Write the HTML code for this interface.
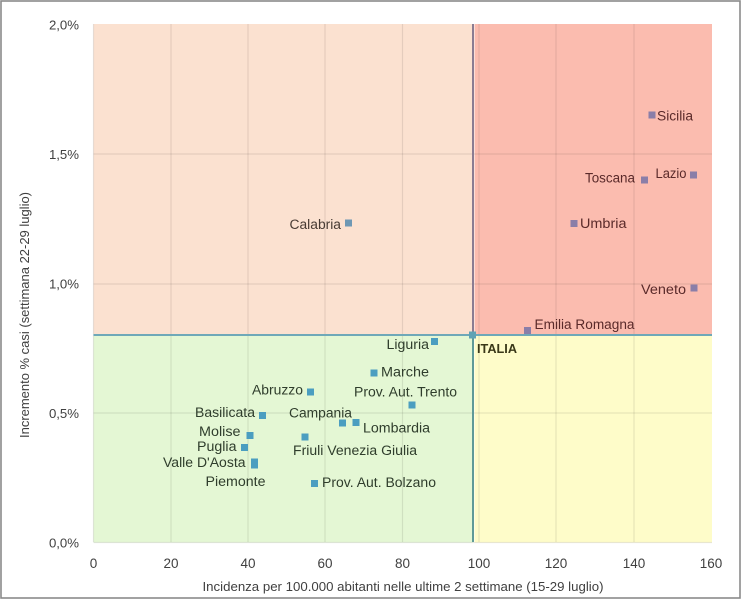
<!DOCTYPE html>
<html><head><meta charset="utf-8"><style>
html,body{margin:0;padding:0;background:#fff;}
svg{display:block;}
text{font-family:"Liberation Sans",Arial,sans-serif;}
</style></head><body>
<svg width="744" height="600" viewBox="0 0 744 600" xmlns="http://www.w3.org/2000/svg">
<rect x="0" y="0" width="744" height="600" fill="#fff"/>
<rect x="1" y="1" width="739" height="597" fill="none" stroke="#8a8a8a" stroke-width="1.6"/>
<!-- quadrants -->
<rect x="93.5" y="24" width="380" height="311" fill="#fbe1d0"/>
<rect x="474.5" y="24" width="237.5" height="311" fill="#fbbcaf"/>
<rect x="93.5" y="335" width="380" height="207.5" fill="#e4f7d4"/>
<rect x="474.5" y="335" width="237.5" height="207.5" fill="#fefcc9"/>
<!-- gridlines -->
<g stroke="#000" stroke-opacity="0.09" stroke-width="1.2">
<line x1="93.5" y1="154" x2="712" y2="154"/>
<line x1="93.5" y1="284" x2="712" y2="284"/>
<line x1="93.5" y1="413" x2="712" y2="413"/>
<line x1="171" y1="24" x2="171" y2="542"/>
<line x1="248" y1="24" x2="248" y2="542"/>
<line x1="325" y1="24" x2="325" y2="542"/>
<line x1="402.5" y1="24" x2="402.5" y2="542"/>
<line x1="479" y1="24" x2="479" y2="542"/>
<line x1="556" y1="24" x2="556" y2="542"/>
<line x1="634" y1="24" x2="634" y2="542"/>
<line x1="93.5" y1="24" x2="93.5" y2="542"/>
<line x1="93.5" y1="542.5" x2="712" y2="542.5"/>
</g>
<!-- dividers -->
<line x1="93.5" y1="335" x2="712" y2="335" stroke="#6fa8b8" stroke-width="2"/>
<line x1="473" y1="24" x2="473" y2="335" stroke="#8a7c92" stroke-width="2"/>
<line x1="473" y1="335" x2="473" y2="542" stroke="#5f9a98" stroke-width="2"/>

<!-- y tick labels -->
<g font-size="13.2" fill="#404040" text-anchor="end">
<text x="79" y="29.5">2,0%</text>
<text x="79" y="159">1,5%</text>
<text x="79" y="288.5">1,0%</text>
<text x="79" y="418">0,5%</text>
<text x="79" y="547.5">0,0%</text>
</g>
<!-- x tick labels -->
<g font-size="13.5" fill="#404040" text-anchor="middle">
<text x="93.5" y="568">0</text>
<text x="171" y="568">20</text>
<text x="248" y="568">40</text>
<text x="325" y="568">60</text>
<text x="402.5" y="568">80</text>
<text x="479" y="568">100</text>
<text x="556" y="568">120</text>
<text x="634" y="568">140</text>
<text x="711" y="568">160</text>
</g>
<!-- axis titles -->
<text x="202.5" y="591" font-size="12.5" fill="#404040" textLength="401" lengthAdjust="spacingAndGlyphs">Incidenza per 100.000 abitanti nelle ultime 2 settimane (15-29 luglio)</text>
<text transform="translate(29,438) rotate(-90)" x="0" y="0" font-size="12.5" fill="#404040" textLength="246" lengthAdjust="spacingAndGlyphs">Incremento % casi (settimana 22-29 luglio)</text>

<!-- markers -->
<g fill="#8a7ea8">
<rect x="648.5" y="111.5" width="7" height="7"/>
<rect x="641" y="176.5" width="7" height="7"/>
<rect x="690" y="171.5" width="7" height="7"/>
<rect x="570.5" y="220" width="7" height="7"/>
<rect x="690.5" y="284.5" width="7" height="7"/>
<rect x="524" y="327" width="7" height="7"/>
</g>
<rect x="345" y="219.5" width="7" height="7" fill="#6e98b4"/>
<rect x="469" y="331.5" width="7" height="7" fill="#5fa2b4"/>
<g fill="#4b9ec0">
<rect x="431" y="338" width="7" height="7"/>
<rect x="370.5" y="369.5" width="7" height="7"/>
<rect x="408.5" y="401.5" width="7" height="7"/>
<rect x="307" y="388.5" width="7" height="7"/>
<rect x="259" y="412" width="7" height="7"/>
<rect x="339" y="419.5" width="7" height="7"/>
<rect x="352.5" y="419" width="7" height="7"/>
<rect x="246.5" y="432" width="7" height="7"/>
<rect x="301.5" y="433.5" width="7" height="7"/>
<rect x="241" y="444" width="7" height="7"/>
<rect x="251" y="458.5" width="7" height="7"/>
<rect x="251" y="461.5" width="7" height="7"/>
<rect x="311" y="480" width="7" height="7"/>
</g>

<!-- labels red region -->
<g font-size="13.5" fill="#5a2a2a">
<text x="657" y="120.5" textLength="36" lengthAdjust="spacingAndGlyphs">Sicilia</text>
<text x="585" y="182.5" textLength="50" lengthAdjust="spacingAndGlyphs">Toscana</text>
<text x="655.5" y="178" textLength="31" lengthAdjust="spacingAndGlyphs">Lazio</text>
<text x="580" y="228" textLength="46.5" lengthAdjust="spacingAndGlyphs">Umbria</text>
<text x="641" y="294" textLength="45" lengthAdjust="spacingAndGlyphs">Veneto</text>
<text x="534.5" y="329" textLength="100" lengthAdjust="spacingAndGlyphs">Emilia Romagna</text>
</g>
<text x="289.5" y="229" font-size="13.5" fill="#473a33" textLength="51.5" lengthAdjust="spacingAndGlyphs">Calabria</text>
<text x="477" y="353" font-size="13" font-weight="bold" fill="#3a3818" textLength="40" lengthAdjust="spacingAndGlyphs">ITALIA</text>

<!-- labels green region -->
<g font-size="13.5" fill="#2f3d2c">
<text x="386.5" y="349" textLength="42.5" lengthAdjust="spacingAndGlyphs">Liguria</text>
<text x="381" y="376.5" textLength="48" lengthAdjust="spacingAndGlyphs">Marche</text>
<text x="354" y="396.5" textLength="103" lengthAdjust="spacingAndGlyphs">Prov. Aut. Trento</text>
<text x="252" y="394.5" textLength="51" lengthAdjust="spacingAndGlyphs">Abruzzo</text>
<text x="195" y="417" textLength="60" lengthAdjust="spacingAndGlyphs">Basilicata</text>
<text x="289" y="417.5" textLength="63" lengthAdjust="spacingAndGlyphs">Campania</text>
<text x="363" y="432.5" textLength="67" lengthAdjust="spacingAndGlyphs">Lombardia</text>
<text x="199" y="436" textLength="41.5" lengthAdjust="spacingAndGlyphs">Molise</text>
<text x="197" y="451" textLength="39.5" lengthAdjust="spacingAndGlyphs">Puglia</text>
<text x="293" y="455" textLength="124" lengthAdjust="spacingAndGlyphs">Friuli Venezia Giulia</text>
<text x="163" y="467" textLength="82.5" lengthAdjust="spacingAndGlyphs">Valle D'Aosta</text>
<text x="205.5" y="486" textLength="60" lengthAdjust="spacingAndGlyphs">Piemonte</text>
<text x="322" y="487" textLength="114" lengthAdjust="spacingAndGlyphs">Prov. Aut. Bolzano</text>
</g>
</svg>
</body></html>
